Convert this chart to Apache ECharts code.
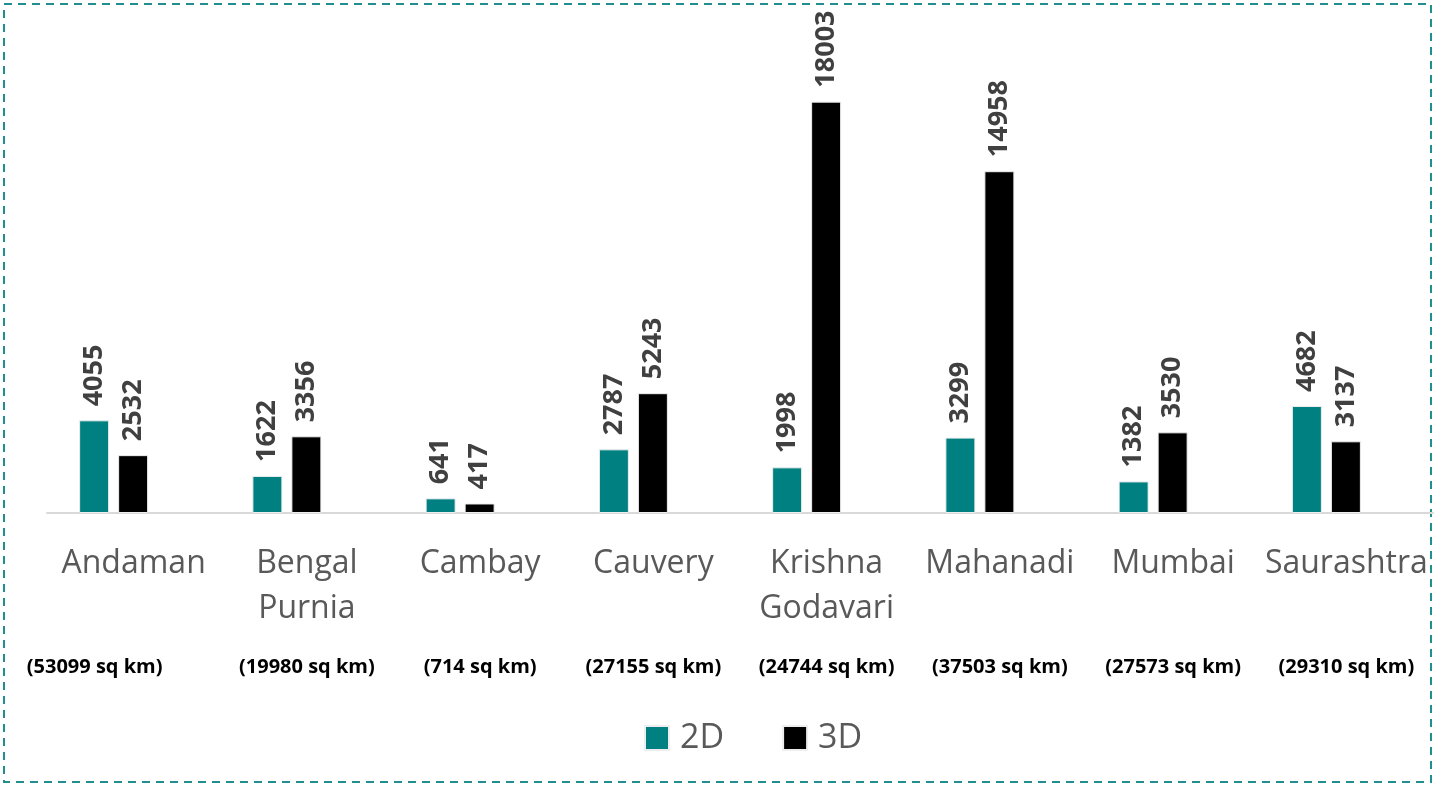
<!DOCTYPE html>
<html>
<head>
<meta charset="utf-8">
<script src="https://cdn.jsdelivr.net/npm/echarts@6/dist/echarts.min.js"></script>
<style>
html,body{margin:0;padding:0;background:#fff;}
#chart{width:1435px;height:786px;}
</style>
</head>
<body>
<div id="chart"></div>
<script>
var categories = ['Andaman', 'Bengal\nPurnia', 'Cambay', 'Cauvery', 'Krishna\nGodavari', 'Mahanadi', 'Mumbai', 'Saurashtra'];
var areas = ['(53099 sq km)', '(19980 sq km)', '(714 sq km)', '(27155 sq km)', '(24744 sq km)', '(37503 sq km)', '(27573 sq km)', '(29310 sq km)'];
var values2D = [4055, 1622, 641, 2787, 1998, 3299, 1382, 4682];
var values3D = [2532, 3356, 417, 5243, 18003, 14958, 3530, 3137];
var seriesNames = ['2D', '3D'];

var FONT = '"Open Sans", "Noto Sans", sans-serif';
var labelCfg = {
  show: true, position: 'top', rotate: 90, align: 'left', verticalAlign: 'middle',
  distance: 14, fontFamily: FONT, fontWeight: 'bold', fontSize: 27, color: '#404040'
};

var chart = echarts.init(document.getElementById('chart'), null, {renderer: 'canvas'});
chart.setOption({
  backgroundColor: '#ffffff',
  animation: false,
  graphic: [{
    type: 'rect', silent: true,
    shape: {x: 4, y: 4, width: 1427, height: 778},
    style: {fill: 'none', stroke: '#1f8f8f', lineWidth: 2, lineDash: [8, 6]}
  }],
  legend: {
    data: seriesNames, left: 644, top: 721, padding: 0, icon: 'rect',
    itemWidth: 24, itemHeight: 24, itemGap: 58,
    textStyle: {fontFamily: FONT, fontSize: 34, color: '#595959', padding: [0, 0, 0, 6]}
  },
  grid: [
    {left: 27, right: 22, top: 56, bottom: 273},
    {left: 47, right: 2, top: 56, bottom: 273}
  ],
  xAxis: [
    {type: 'category', gridIndex: 0, data: categories, axisLine: {show: false}, axisTick: {show: false}, axisLabel: {show: false}},
    {type: 'category', gridIndex: 1, data: categories,
      axisLine: {show: true, lineStyle: {color: '#d9d9d9', width: 2}}, axisTick: {show: false},
      axisLabel: {show: true, interval: 0, margin: 28, fontFamily: FONT, fontSize: 32, color: '#595959', lineHeight: 45}},
    {type: 'category', gridIndex: 1, data: areas, position: 'bottom', offset: 136,
      axisLine: {show: false}, axisTick: {show: false},
      axisLabel: {show: true, interval: 0, margin: 8,
        formatter: function (v, i) { return i === 0 ? '{f|' + v + '}' : '{a|' + v + '}'; },
        rich: {
          a: {fontFamily: FONT, fontWeight: 'bold', fontSize: 20, color: '#000000'},
          f: {fontFamily: FONT, fontWeight: 'bold', fontSize: 20, color: '#000000', padding: [0, 78, 0, 0]}
        }}}
  ],
  yAxis: [
    {type: 'value', gridIndex: 0, min: 0, max: 20000, show: false, splitLine: {show: false}},
    {type: 'value', gridIndex: 1, min: 0, max: 20000, show: false, splitLine: {show: false}}
  ],
  series: [
    {name: seriesNames[0], type: 'bar', xAxisIndex: 0, yAxisIndex: 0, data: values2D, barWidth: 30, barGap: '30%',
      itemStyle: {color: '#008080', borderColor: '#eeeeee', borderWidth: 1}, label: labelCfg},
    {name: seriesNames[1], type: 'bar', xAxisIndex: 0, yAxisIndex: 0, data: values3D, barWidth: 30, barGap: '30%',
      itemStyle: {color: '#000000', borderColor: '#eeeeee', borderWidth: 1}, label: labelCfg}
  ]
});
</script>
</body>
</html>
